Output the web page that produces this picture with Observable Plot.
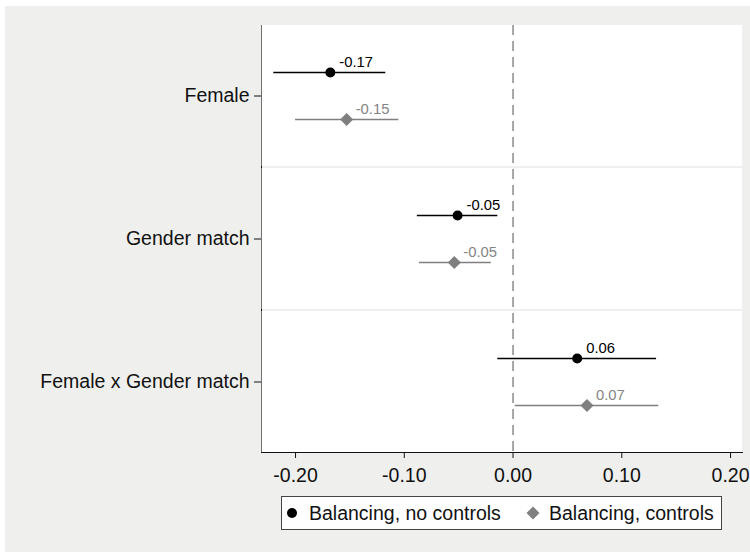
<!DOCTYPE html>
<html><head><meta charset="utf-8">
<script src="https://cdn.jsdelivr.net/npm/d3@7"></script>
<script src="https://cdn.jsdelivr.net/npm/@observablehq/plot@0.6"></script>
<style>
html,body{margin:0;padding:0;background:#fff;}
#wrap{position:relative;width:750px;height:552px;overflow:hidden;font-family:"Liberation Sans",Arial,sans-serif;}
#panel{position:absolute;left:5px;top:6px;right:0;bottom:0;background:#eff0ee;}
#chart{position:absolute;left:0;top:0;}
#legend{position:absolute;left:281px;top:496px;}
</style></head><body>
<div id="wrap"><div id="panel"></div><div id="chart"></div><div id="legend"></div></div>
<script>
const categories = ["Female", "Gender match", "Female x Gender match"];
const series = ["Balancing, no controls", "Balancing, controls"];
const coefNoControls = [-0.168, -0.051, 0.059];
const lowNoControls  = [-0.220, -0.088, -0.014];
const highNoControls = [-0.117, -0.014, 0.132];
const coefControls = [-0.153, -0.054, 0.068];
const lowControls  = [-0.200, -0.086, 0.002];
const highControls = [-0.105, -0.020, 0.134];
const xTicks = [-0.2, -0.1, 0, 0.1, 0.2];
const xDomain = [-0.2313, 0.2110];

const seriesData = [
  {name: series[0], coef: coefNoControls, lo: lowNoControls, hi: highNoControls},
  {name: series[1], coef: coefControls, lo: lowControls, hi: highControls}
];
const styles = {
  [series[0]]: {color: "#000000", label: "#000000", symbol: "circle", r: 5, dy: -23.5},
  [series[1]]: {color: "#7f7f7f", label: "#858585", symbol: "diamond2", r: 5.9, dy: 23.5}
};
const rows = seriesData.flatMap(s => categories.map((c, i) => ({
  category: c, series: s.name, coef: s.coef[i], lo: s.lo[i], hi: s.hi[i]
})));

const marks = [
  Plot.cell(categories, {y: d => d, fill: "white", inset: 0, insetLeft: 0.6}),
  Plot.ruleX([0], {stroke: "#8a8a8a", strokeWidth: 1.5, strokeDasharray: "10,6"})
];
for (const s of series) {
  const st = styles[s];
  const data = rows.filter(d => d.series === s);
  marks.push(
    Plot.ruleY(data, {y: "category", x1: "lo", x2: "hi", dy: st.dy, stroke: st.color, strokeWidth: 1.6}),
    Plot.dot(data, {x: "coef", y: "category", dy: st.dy, symbol: st.symbol, r: st.r, fill: st.color, stroke: "none"}),
    Plot.text(data, {x: "coef", y: "category", text: d => d.coef.toFixed(2), dx: 9, dy: st.dy - 10,
      textAnchor: "start", fill: st.label, fontSize: 14.8})
  );
}

const chart = Plot.plot({
  width: 750,
  height: 490,
  marginLeft: 261,
  marginRight: 8,
  marginTop: 25,
  marginBottom: 38,
  style: {background: "transparent", fontSize: "19.5px", fontFamily: "'Liberation Sans', Arial, sans-serif", color: "#111"},
  x: {domain: xDomain, ticks: xTicks, tickFormat: d => d.toFixed(2), tickSize: 6, tickPadding: 10, line: true, label: null},
  y: {domain: categories, paddingInner: 0.014, paddingOuter: 0, tickSize: 7, tickPadding: 5, line: true, label: null},
  marks
});
document.getElementById("chart").appendChild(chart);

// legend
const lg = d3.select("#legend").append("svg").attr("width", 441).attr("height", 34)
  .style("font-family", "'Liberation Sans', Arial, sans-serif");
lg.append("rect").attr("x", 0.5).attr("y", 0.5).attr("width", 440).attr("height", 33)
  .attr("fill", "white").attr("stroke", "#444");
lg.append("circle").attr("cx", 11).attr("cy", 17).attr("r", 5).attr("fill", styles[series[0]].color);
lg.append("text").attr("x", 28).attr("y", 17).attr("dy", "0.35em").attr("font-size", 19.5).attr("fill", "#111").text(series[0]);
lg.append("path").attr("transform", "translate(252,17)")
  .attr("d", d3.symbol(d3.symbolDiamond2, 108)()).attr("fill", styles[series[1]].color);
lg.append("text").attr("x", 268).attr("y", 17).attr("dy", "0.35em").attr("font-size", 19.5).attr("fill", "#111").text(series[1]);
</script>
</body></html>
